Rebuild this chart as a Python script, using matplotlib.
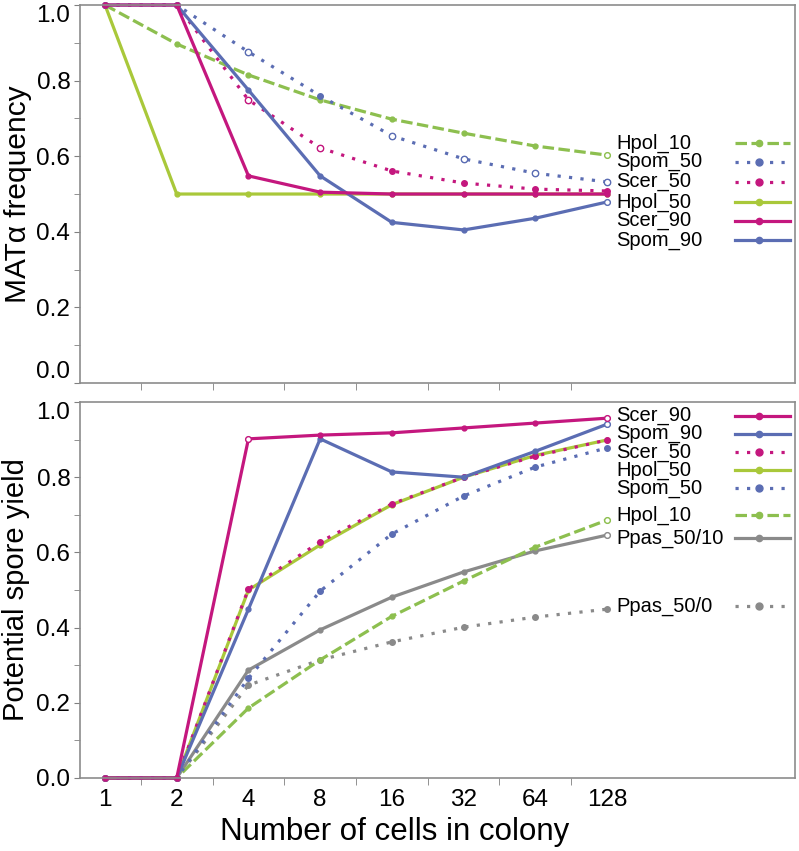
import numpy as np
import matplotlib.pyplot as plt

plt.rcParams['font.family'] = ['Liberation Sans', 'DejaVu Sans']

# colony sizes (plotted on evenly spaced category positions)
cells = [1, 2, 4, 8, 16, 32, 64, 128]

# top panel: MAT alpha frequency
mat_hpol_10 = [1.0, 0.897, 0.815, 0.749, 0.698, 0.661, 0.627, 0.603]
mat_spom_50 = [1.0, 1.0, 0.876, 0.76, 0.654, 0.593, 0.555, 0.532]
mat_scer_50 = [1.0, 1.0, 0.749, 0.622, 0.561, 0.529, 0.513, 0.508]
mat_hpol_50 = [1.0, 0.5, 0.5, 0.5, 0.5, 0.5, 0.5, 0.5]
mat_scer_90 = [1.0, 1.0, 0.548, 0.505, 0.5, 0.5, 0.5, 0.5]
mat_spom_90 = [1.0, 1.0, 0.775, 0.548, 0.425, 0.405, 0.436, 0.479]

# bottom panel: potential spore yield
sy_scer_90 = [0.0, 0.0, 0.902, 0.912, 0.918, 0.931, 0.944, 0.957]
sy_spom_90 = [0.0, 0.0, 0.449, 0.902, 0.814, 0.800, 0.869, 0.941]
sy_scer_50 = [0.0, 0.0, 0.503, 0.628, 0.729, 0.800, 0.856, 0.899]
sy_hpol_50 = [0.0, 0.0, 0.500, 0.620, 0.727, 0.800, 0.858, 0.899]
sy_spom_50 = [0.0, 0.0, 0.265, 0.497, 0.649, 0.750, 0.827, 0.878]
sy_hpol_10 = [0.0, 0.0, 0.186, 0.314, 0.430, 0.524, 0.614, 0.686]
sy_ppas_50_10 = [0.0, 0.0, 0.287, 0.394, 0.481, 0.548, 0.604, 0.646]
sy_ppas_50_0 = [0.0, 0.0, 0.247, 0.314, 0.362, 0.401, 0.428, 0.449]

MAG = '#c4177e'
BLUE = '#5b6db3'
GREEN = '#8dbf4f'
YGRN = '#a9c83a'
GRAY = '#8a8a8a'

SOLID = dict(ls='-', lw=2.3)
DASH = dict(ls=(0, (3.6, 1.4)), lw=2.3)
DOT = dict(ls=(0, (1, 2.6)), lw=2.3, dash_capstyle='butt')

xpos = np.arange(len(cells))
fig = plt.figure(figsize=(7.99, 8.51), dpi=100)
ax1 = fig.add_axes([0.1001, 0.5499, 0.8948, 0.4442])
ax2 = fig.add_axes([0.1001, 0.0858, 0.8948, 0.4418])


def draw(ax, vals, color, style, ms, hollow, label, ylab):
    ax.plot(xpos, vals, color=color, marker='o', ms=ms, mec=color, mfc=color,
            clip_on=False, **style)
    for i in hollow:
        ax.plot(xpos[i], vals[i], 'o', ms=ms + 0.6, mec=color, mfc='white',
                mew=1.0, clip_on=False, zorder=3)
    ax.text(7.13, ylab, label, fontsize=14.5, va='center', ha='left')
    ax.plot([8.79, 9.55], [ylab, ylab], color=color, **style)
    ax.plot(9.12, ylab, 'o', color=color, ms=ms + 1)


top = [
    (mat_hpol_50, YGRN, SOLID, 3.5, [], 'Hpol_50', 0.479),
    (mat_hpol_10, GREEN, DASH, 3.5, [7], 'Hpol_10', 0.635),
    (mat_spom_50, BLUE, DOT, 4.0, [2, 4, 5, 6, 7], 'Spom_50', 0.585),
    (mat_scer_50, MAG, DOT, 4.0, [2, 3], 'Scer_50', 0.532),
    (mat_spom_90, BLUE, SOLID, 3.5, [7], 'Spom_90', 0.378),
    (mat_scer_90, MAG, SOLID, 3.5, [], 'Scer_90', 0.429),
]
for vals, c, st, ms, hol, lab, yl in top:
    draw(ax1, vals, c, st, ms, hol, lab, yl)

bottom = [
    (sy_ppas_50_0, GRAY, DOT, 4.0, [], 'Ppas_50/0', 0.457),
    (sy_ppas_50_10, GRAY, SOLID, 3.5, [7], 'Ppas_50/10', 0.638),
    (sy_hpol_10, GREEN, DASH, 3.5, [7], 'Hpol_10', 0.699),
    (sy_spom_50, BLUE, DOT, 4.0, [], 'Spom_50', 0.771),
    (sy_hpol_50, YGRN, SOLID, 3.5, [], 'Hpol_50', 0.819),
    (sy_scer_50, MAG, DOT, 4.0, [], 'Scer_50', 0.867),
    (sy_spom_90, BLUE, SOLID, 3.5, [7], 'Spom_90', 0.915),
    (sy_scer_90, MAG, SOLID, 3.5, [2, 7], 'Scer_90', 0.963),
]
for vals, c, st, ms, hol, lab, yl in bottom:
    draw(ax2, vals, c, st, ms, hol, lab, yl)

for ax in (ax1, ax2):
    ax.set_xlim(-0.349, 9.62)
    ax.set_ylim(0, 1)
    ax.set_yticks(np.arange(0, 1.01, 0.2))
    ax.set_yticklabels([f'{v:.1f}' for v in np.arange(0, 1.01, 0.2)])
    ax.set_yticks(np.arange(0.1, 1.0, 0.2), minor=True)
    ax.set_xticks(xpos)
    ax.set_xticks(np.arange(0.5, 7, 1), minor=True)
    ax.tick_params(axis='y', which='both', direction='out', length=4,
                   color='#808080', labelsize=17.5, pad=3)
    ax.tick_params(axis='x', which='major', length=0, labelsize=17.5, pad=8)
    ax.tick_params(axis='x', which='minor', direction='out', length=5,
                   color='#808080')
    for sp in ax.spines.values():
        sp.set_color('#8c8c8c')
        sp.set_linewidth(1.2)
    # end labels are kept inside the axis span
    ax.get_yticklabels()[-1].set_va('top')

ax1.get_yticklabels()[0].set_va('bottom')

ax1.set_xticklabels([])
ax2.set_xticklabels([str(c) for c in cells])
ax1.set_ylabel('MAT\u03b1 frequency', fontsize=21.5, va='center')
ax2.set_ylabel('Potential spore yield', fontsize=21, va='center')
ax1.yaxis.set_label_coords(-0.087, 0.5)
ax2.yaxis.set_label_coords(-0.089, 0.5)
ax2.set_xlabel('Number of cells in colony', fontsize=22.5)
ax2.xaxis.set_label_coords(0.44, -0.105)

fig.savefig('out.png', dpi=100)
